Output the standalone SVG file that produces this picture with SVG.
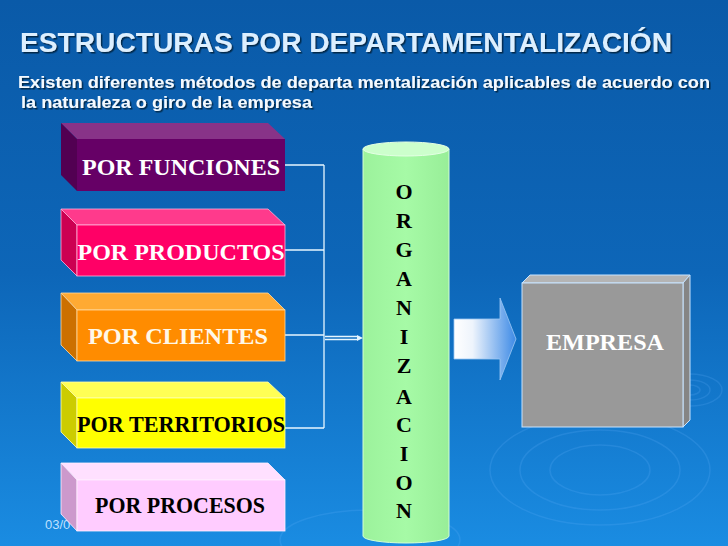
<svg xmlns="http://www.w3.org/2000/svg" width="728" height="546" viewBox="0 0 728 546">
<defs>
<linearGradient id="bg" x1="0" y1="0" x2="0" y2="1">
<stop offset="0" stop-color="#0a5aa8"/>
<stop offset="0.5" stop-color="#0d66b8"/>
<stop offset="1" stop-color="#1a8ce2"/>
</linearGradient>
<linearGradient id="arr" x1="0" y1="0" x2="1" y2="0">
<stop offset="0" stop-color="#ffffff"/>
<stop offset="0.3" stop-color="#eef4fc"/>
<stop offset="1" stop-color="#3d8ae6"/>
</linearGradient>
<linearGradient id="cyl" x1="0" y1="0" x2="1" y2="0">
<stop offset="0" stop-color="#9cf29c"/>
<stop offset="0.5" stop-color="#a6faa6"/>
<stop offset="1" stop-color="#98ee98"/>
</linearGradient>
<filter id="sh" x="-5%" y="-20%" width="110%" height="150%">
<feDropShadow dx="1.5" dy="1.5" stdDeviation="0.6" flood-color="#002040" flood-opacity="0.9"/>
</filter>
</defs>
<style>
.title{font-family:"Liberation Sans",Arial,sans-serif;font-weight:bold;font-size:28px;fill:#dcefff}
.sub{font-family:"Liberation Sans",Arial,sans-serif;font-weight:bold;font-size:16.5px;fill:#f4faff}
.lbl{font-family:"Liberation Serif","Times New Roman",serif;font-weight:bold;font-size:24px;text-anchor:middle}
.let{font-family:"Liberation Serif","Times New Roman",serif;font-weight:bold;font-size:22px;text-anchor:middle;fill:#000}
.con{stroke:#e6f6ff;stroke-width:1.3;fill:none}
.ripple{fill:none;stroke:#6fb8ff;stroke-opacity:0.18;stroke-width:1.5}
.date{font-family:"Liberation Sans",Arial,sans-serif;font-size:13px;fill:#bfe0ff}
</style>
<rect x="0" y="0" width="728" height="546" fill="url(#bg)"/>
<g id="ripples">
<ellipse class="ripple" cx="690" cy="390" rx="32" ry="16"/>
<ellipse class="ripple" cx="690" cy="390" rx="20" ry="10"/>
<ellipse class="ripple" cx="690" cy="390" rx="10" ry="5"/>
<ellipse class="ripple" cx="600" cy="470" rx="110" ry="55"/>
<ellipse class="ripple" cx="600" cy="470" rx="80" ry="40"/>
<ellipse class="ripple" cx="600" cy="470" rx="50" ry="25"/>
<ellipse class="ripple" cx="370" cy="540" rx="90" ry="30"/>
</g>
<text class="title" x="20" y="52" textLength="652" lengthAdjust="spacingAndGlyphs" filter="url(#sh)">ESTRUCTURAS POR DEPARTAMENTALIZACIÓN</text>
<text class="sub" x="18" y="88" textLength="692" lengthAdjust="spacingAndGlyphs" filter="url(#sh)">Existen diferentes métodos de departa mentalización aplicables de acuerdo con</text>
<text class="sub" x="21" y="108" textLength="291" lengthAdjust="spacingAndGlyphs" filter="url(#sh)">la naturaleza o giro de la empresa</text>
<text class="date" x="45" y="529">03/0</text>
<g id="connectors">
<path class="con" d="M285,165 H324 M285,250 H324 M285,335 H324 M285,428 H324 M324,165 V428"/>
<path class="con" d="M325,336.5 H357 M325,339.5 H357" stroke-width="1.1"/>
<path d="M357,335 L363,338 L357,341 Z" fill="#e6f6ff"/>
</g>
<g id="n-funciones">
<polygon points="61,123 268,123 285,139 77,139" fill="#883388"/>
<polygon points="61,123 77,139 77,191 61,175" fill="#520052"/>
<rect x="77" y="139" width="208" height="52" fill="#660066"/>
<text class="lbl" x="181" y="175" fill="#ffffff" textLength="198" lengthAdjust="spacingAndGlyphs">POR FUNCIONES</text>
</g>
<g id="n-productos">
<polygon points="61,209 268,209 285,225 77,225" fill="#ff3a8c" stroke="#ffb0d8" stroke-width="0.8"/>
<polygon points="61,209 77,225 77,276 61,260" fill="#cc0052" stroke="#ffb0d8" stroke-width="0.8"/>
<rect x="77" y="225" width="208" height="51" fill="#ff0066" stroke="#ffb0d8" stroke-width="0.8"/>
<text class="lbl" x="181" y="260" fill="#ffffff" textLength="207" lengthAdjust="spacingAndGlyphs">POR PRODUCTOS</text>
</g>
<g id="n-clientes">
<polygon points="61,293 268,293 285,310 77,310" fill="#ffaa33" stroke="#ffd9a0" stroke-width="0.8"/>
<polygon points="61,293 77,310 77,361 61,345" fill="#cc7000" stroke="#ffd9a0" stroke-width="0.8"/>
<rect x="77" y="310" width="208" height="51" fill="#ff8c00" stroke="#ffd9a0" stroke-width="0.8"/>
<text class="lbl" x="178" y="344" fill="#fff8e8" textLength="180" lengthAdjust="spacingAndGlyphs">POR CLIENTES</text>
</g>
<g id="n-territorios">
<polygon points="61,382 268,382 285,398 77,398" fill="#ffff55" stroke="#ffffb0" stroke-width="0.8"/>
<polygon points="61,382 77,398 77,448 61,432" fill="#cccc00" stroke="#ffffb0" stroke-width="0.8"/>
<rect x="77" y="398" width="208" height="50" fill="#ffff00" stroke="#ffffb0" stroke-width="0.8"/>
<text class="lbl" x="181" y="432" fill="#000000" textLength="208" lengthAdjust="spacingAndGlyphs">POR TERRITORIOS</text>
</g>
<g id="n-procesos">
<polygon points="61,463 268,463 285,480 77,480" fill="#ffe0ff" stroke="#fff0ff" stroke-width="0.8"/>
<polygon points="61,463 77,480 77,531 61,514" fill="#cc99cc" stroke="#fff0ff" stroke-width="0.8"/>
<rect x="77" y="480" width="208" height="51" fill="#ffccff" stroke="#fff0ff" stroke-width="0.8"/>
<text class="lbl" x="180" y="513" fill="#000000" textLength="170" lengthAdjust="spacingAndGlyphs">POR PROCESOS</text>
</g>
<g id="n-organizacion">
<path d="M363,149 V536 A43,7 0 0 0 449,536 V149 Z" fill="url(#cyl)" stroke="#d4ffd4" stroke-width="1"/>
<ellipse cx="406" cy="149" rx="43" ry="7" fill="#ccffcc" stroke="#e4ffe4" stroke-width="1"/>
<text class="let" x="404" y="199">O</text>
<text class="let" x="404" y="228">R</text>
<text class="let" x="404" y="257">G</text>
<text class="let" x="404" y="286">A</text>
<text class="let" x="404" y="315">N</text>
<text class="let" x="404" y="344">I</text>
<text class="let" x="404" y="373">Z</text>
<text class="let" x="404" y="404">A</text>
<text class="let" x="404" y="432">C</text>
<text class="let" x="404" y="461">I</text>
<text class="let" x="404" y="490">O</text>
<text class="let" x="404" y="518">N</text>
</g>
<g id="n-arrow">
<polygon points="454,319 500,319 500,298 516,339 500,380 500,359 454,359" fill="url(#arr)" stroke="#9cc8f4" stroke-width="0.8"/>
</g>
<g id="n-empresa">
<polygon points="522,283 530,275 690,275 683,283" fill="#b4b4b4" stroke="#c8e4ff" stroke-width="1"/>
<polygon points="683,283 690,275 690,420 683,427" fill="#858585" stroke="#c8e4ff" stroke-width="1"/>
<rect x="522" y="283" width="161" height="144" fill="#999999" stroke="#c8e4ff" stroke-width="1"/>
<text class="lbl" x="605" y="350" fill="#ffffff" textLength="118" lengthAdjust="spacingAndGlyphs">EMPRESA</text>
</g>
</svg>
